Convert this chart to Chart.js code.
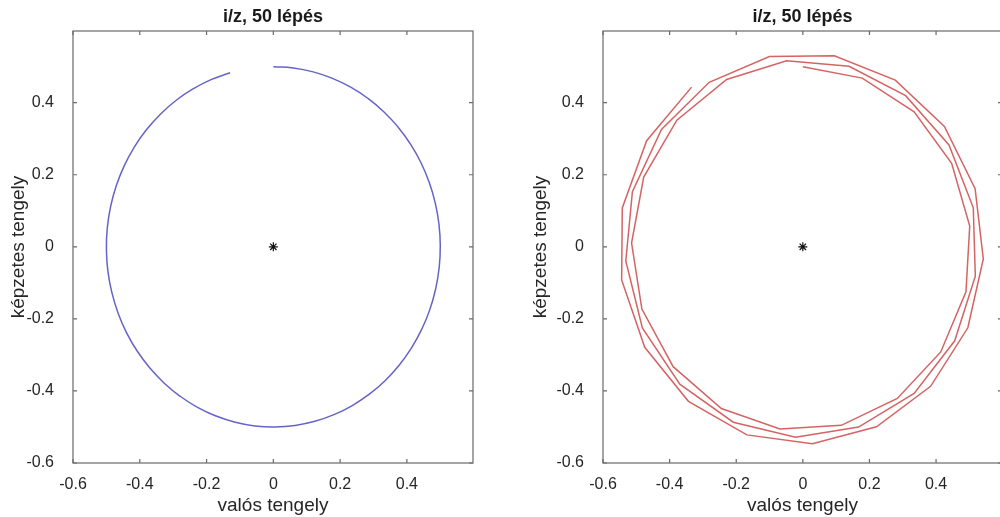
<!DOCTYPE html>
<html>
<head>
<meta charset="utf-8">
<script src="https://cdn.jsdelivr.net/npm/chart.js@4/dist/chart.umd.min.js"></script>
<style>
  html, body { margin: 0; padding: 0; background: #fff; overflow: hidden; width: 1000px; height: 517px; }
  canvas { position: absolute; top: 0; }
  #left { left: 0px; }
  #right { left: 522px; }
</style>
</head>
<body>
<canvas id="left" width="500" height="517"></canvas>
<canvas id="right" width="500" height="517"></canvas>
<script>
// tick values shared by both plots
const xTicks = [-0.6, -0.4, -0.2, 0, 0.2, 0.4];
const yTicks = [-0.6, -0.4, -0.2, 0, 0.2, 0.4];
const titleText = "i/z, 50 lépés";
const xTitle = "valós tengely";
const yTitle = "képzetes tengely";

// left plot: smooth circle, 50 steps
const leftRe = [0, 0.0601, 0.1193, 0.1767, 0.2317, 0.2832, 0.3307, 0.3733, 0.4105, 0.4419,
  0.4668, 0.4849, 0.4961, 0.5000, 0.4967, 0.4862, 0.4687, 0.4443, 0.4135, 0.3768,
  0.3346, 0.2875, 0.2363, 0.1816, 0.1244, 0.0653, 0.0052, -0.0549, -0.1142, -0.1719,
  -0.2270, -0.2788, -0.3267, -0.3698, -0.4075, -0.4394, -0.4649, -0.4836, -0.4954, -0.4999,
  -0.4973, -0.4874, -0.4704, -0.4467, -0.4164, -0.3802, -0.3384, -0.2918, -0.2409, -0.1865, -0.1294];
const leftIm = [0.5, 0.4964, 0.4856, 0.4677, 0.4431, 0.4121, 0.3751, 0.3326, 0.2854, 0.2340,
  0.1792, 0.1218, 0.0627, 0.0026, -0.0575, -0.1167, -0.1743, -0.2293, -0.2810, -0.3287,
  -0.3716, -0.4091, -0.4406, -0.4659, -0.4843, -0.4957, -0.5000, -0.4970, -0.4868, -0.4695,
  -0.4455, -0.4150, -0.3785, -0.3365, -0.2896, -0.2386, -0.1841, -0.1269, -0.0679, -0.0079,
  0.0523, 0.1116, 0.1694, 0.2246, 0.2767, 0.3247, 0.3680, 0.4061, 0.4381, 0.4639, 0.4830];

// right plot: polygonal spiral, 50 steps
const rightRe = [0, 0.1784, 0.3342, 0.4468, 0.5011, 0.4898, 0.4141, 0.2837, 0.1155, -0.0687,
  -0.2446, -0.3894, -0.4832, -0.5142, -0.4778, -0.3783, -0.2288, -0.0487, 0.1387, 0.3086,
  0.4388, 0.5118, 0.5179, 0.4560, 0.3342, 0.1674, -0.0218, -0.2088, -0.3694, -0.4818,
  -0.5316, -0.5117, -0.4245, -0.2812, -0.1003, 0.0945, 0.2776, 0.4251, 0.5173, 0.5419,
  0.4954, 0.3837, 0.2211, 0.0288, -0.1680, -0.3435, -0.4747, -0.5440, -0.5421, -0.4690, -0.3340];
const rightIm = [0.5, 0.4683, 0.3748, 0.2318, 0.0576, -0.1249, -0.2917, -0.4210, -0.4955, -0.5053,
  -0.4487, -0.3327, -0.1728, 0.0106, 0.1934, 0.3516, 0.4643, 0.5164, 0.5009, 0.4196,
  0.2828, 0.1082, -0.0813, -0.2609, -0.4068, -0.5002, -0.5282, -0.4868, -0.3812, -0.2253,
  -0.0390, 0.1531, 0.3259, 0.4567, 0.5279, 0.5302, 0.4627, 0.3342, 0.1613, -0.0335,
  -0.2247, -0.3872, -0.4994, -0.5466, -0.5220, -0.4288, -0.2790, -0.0918, 0.1081, 0.2946, 0.4432];

// origin marker
const originRe = [0];
const originIm = [0];

const FONT = "'Liberation Sans', Arial, Helvetica, sans-serif";
const TEXT = "#262626";

function pts(re, im) {
  return re.map((x, i) => ({ x: x, y: im[i] }));
}

// frame with inward ticks on all four sides, like the original plot box
const boxPlugin = {
  id: "box",
  afterDatasetsDraw(chart) {
    const { ctx, chartArea: a, scales } = chart;
    ctx.save();
    ctx.strokeStyle = "#6a6a6a";
    ctx.lineWidth = 1.2;
    ctx.strokeRect(a.left, a.top, a.right - a.left, a.bottom - a.top);
    ctx.beginPath();
    xTicks.forEach(v => {
      const px = scales.x.getPixelForValue(v);
      ctx.moveTo(px, a.bottom); ctx.lineTo(px, a.bottom - 4);
      ctx.moveTo(px, a.top); ctx.lineTo(px, a.top + 4);
    });
    yTicks.forEach(v => {
      const py = scales.y.getPixelForValue(v);
      ctx.moveTo(a.left, py); ctx.lineTo(a.left + 4, py);
      ctx.moveTo(a.right, py); ctx.lineTo(a.right - 4, py);
    });
    ctx.stroke();
    ctx.restore();
  }
};

function makeChart(id, re, im, color, width, tension, yWidth, padRight) {
  return new Chart(document.getElementById(id), {
    type: "scatter",
    data: {
      datasets: [
        {
          data: pts(re, im),
          showLine: true,
          borderColor: color,
          borderWidth: width,
          pointRadius: 0,
          tension: tension,
          fill: false
        },
        {
          data: pts(originRe, originIm),
          showLine: false,
          pointStyle: "star",
          pointRadius: 4.5,
          borderColor: "#111",
          borderWidth: 1.2
        }
      ]
    },
    options: {
      responsive: false,
      animation: false,
      layout: { padding: { left: 0, right: padRight, top: 0, bottom: 0 } },
      plugins: {
        legend: { display: false },
        tooltip: { enabled: false },
        title: {
          display: true,
          text: titleText,
          fullSize: false,
          color: "#1a1a1a",
          font: { family: FONT, size: 18, weight: "bold" },
          padding: { top: 6, bottom: 3.4 }
        }
      },
      scales: {
        x: {
          type: "linear",
          min: -0.6,
          max: 0.598,
          afterBuildTicks: s => { s.ticks = xTicks.map(v => ({ value: v })); },
          afterFit: s => { s.height = 54; },
          grid: { display: false },
          border: { display: false },
          ticks: {
            color: TEXT,
            padding: 4,
            font: { family: FONT, size: 16 },
            callback: v => String(Math.round(v * 10) / 10)
          },
          title: {
            display: true,
            text: xTitle,
            color: TEXT,
            font: { family: FONT, size: 19 },
            padding: { top: 0, bottom: 0 }
          }
        },
        y: {
          type: "linear",
          min: -0.6,
          max: 0.599,
          afterBuildTicks: s => { s.ticks = yTicks.map(v => ({ value: v })); },
          afterFit: s => { s.width = yWidth; },
          grid: { display: false },
          border: { display: false },
          ticks: {
            color: TEXT,
            padding: 11,
            font: { family: FONT, size: 16 },
            callback: v => String(Math.round(v * 10) / 10)
          },
          title: {
            display: true,
            text: yTitle,
            color: TEXT,
            font: { family: FONT, size: 19 },
            padding: { top: 7.6, bottom: 0 }
          }
        }
      }
    },
    plugins: [boxPlugin]
  });
}

makeChart("left", leftRe, leftIm, "rgb(100,100,200)", 1.5, 0.5, 73, 27);
makeChart("right", rightRe, rightIm, "rgb(212,100,100)", 1.5, 0, 81, 20);
</script>
</body>
</html>
